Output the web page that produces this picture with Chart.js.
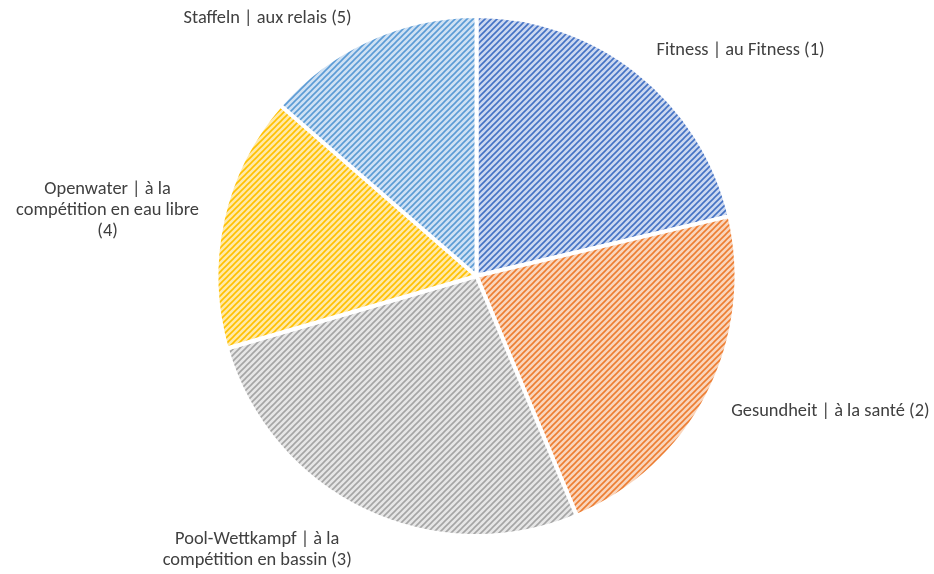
<!DOCTYPE html>
<html>
<head>
<meta charset="utf-8">
<script src="https://cdn.jsdelivr.net/npm/chart.js@4.4.0/dist/chart.umd.min.js"></script>
<style>
  html, body { margin: 0; padding: 0; background: #ffffff; }
  #wrap { width: 934px; height: 574px; }
</style>
</head>
<body>
<div id="wrap"><canvas id="c" width="934" height="574"></canvas></div>
<script>
// ---- data ----
const categories = [
  ["Fitness | au Fitness (1)"],
  ["Gesundheit | à la santé (2)"],
  ["Pool-Wettkampf | à la", "compétition en bassin (3)"],
  ["Openwater | à la", "compétition en eau libre", "(4)"],
  ["Staffeln | aux relais (5)"]
];
const shares = [21.3, 22.4, 26.8, 15.9, 13.6];

// ---- styles ----
const stripeColors = ["#4472C4", "#ED7D31", "#A5A5A5", "#FFC000", "#5B9BD5"];
const tintColors   = ["#CCD8F0", "#F9D5BC", "#E6E6E6", "#FFE9A8", "#CFE1F3"];
const labelOffsets = [
  {dx: 104, dy: -23},
  {dx: 124, dy: 18},
  {dx: -108, dy: 41},
  {dx: -117, dy: -10},
  {dx: -102, dy: -23}
];

function makePattern(fg, bg) {
  const s = 6;
  const t = document.createElement('canvas');
  t.width = s; t.height = s;
  const g = t.getContext('2d');
  g.fillStyle = bg;
  g.fillRect(0, 0, s, s);
  g.strokeStyle = fg;
  g.lineWidth = 1.6;
  g.beginPath();
  g.moveTo(-1, s + 1); g.lineTo(s + 1, -1);
  g.moveTo(-s / 2 - 1, s / 2 + 1); g.lineTo(s / 2 + 1, -s / 2 - 1);
  g.moveTo(s / 2 - 1, s * 1.5 + 1); g.lineTo(s * 1.5 + 1, s / 2 - 1);
  g.stroke();
  return g.createPattern(t, 'repeat');
}

const patterns = stripeColors.map((c, i) => makePattern(c, tintColors[i]));

const labelPlugin = {
  id: 'outerLabels',
  afterDatasetsDraw(chart, args, opts) {
    const ctx = chart.ctx;
    const meta = chart.getDatasetMeta(0);
    ctx.save();
    ctx.font = opts.font;
    ctx.fillStyle = opts.color;
    ctx.textAlign = 'center';
    ctx.textBaseline = 'middle';
    meta.data.forEach((arc, i) => {
      const p = arc.getProps(['x', 'y', 'startAngle', 'endAngle', 'outerRadius'], true);
      const mid = (p.startAngle + p.endAngle) / 2;
      const r = p.outerRadius - 2;
      const ax = p.x + Math.cos(mid) * r + opts.offsets[i].dx;
      const ay = p.y + Math.sin(mid) * r + opts.offsets[i].dy;
      const lines = chart.data.labels[i];
      const lh = opts.lineHeight;
      const top = ay - (lines.length - 1) * lh / 2;
      lines.forEach((ln, k) => ctx.fillText(ln, ax, top + k * lh));
    });
    ctx.restore();
  }
};

new Chart(document.getElementById('c'), {
  type: 'pie',
  data: {
    labels: categories,
    datasets: [{
      data: shares,
      backgroundColor: patterns,
      borderColor: '#ffffff',
      borderWidth: 4
    }]
  },
  options: {
    responsive: false,
    animation: false,
    events: [],
    layout: { padding: { left: 200, right: 181, top: 14, bottom: 36 } },
    plugins: {
      legend: { display: false },
      tooltip: { enabled: false },
      outerLabels: {
        font: '18.4px Carlito, Lato, "Liberation Sans", sans-serif',
        color: '#404040',
        lineHeight: 21,
        offsets: labelOffsets
      }
    }
  },
  plugins: [labelPlugin]
});
</script>
</body>
</html>
